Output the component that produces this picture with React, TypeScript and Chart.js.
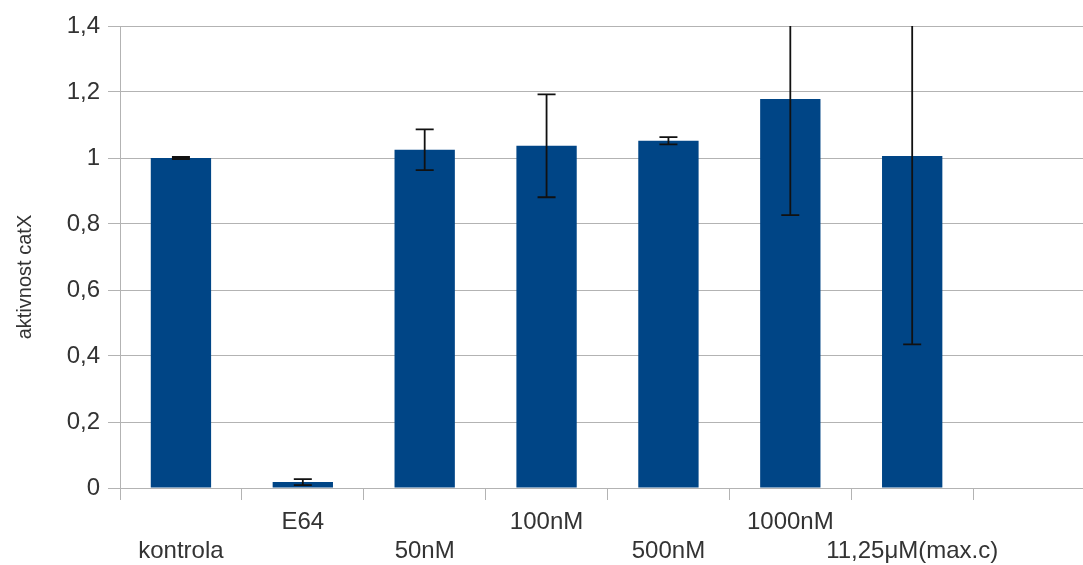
import React, { useEffect, useRef } from "react";
import { Chart, registerables } from "chart.js";

Chart.register(...registerables);

const categories = ["kontrola", "E64", "50nM", "100nM", "500nM", "1000nM", "11,25μM(max.c)", ""];
const values = [1.0, 0.018, 1.025, 1.037, 1.052, 1.179, 1.006, null];
const errors = [0.003, 0.009, 0.062, 0.156, 0.011, 0.352, 0.571, null];
const yTicks = [0, 0.2, 0.4, 0.6, 0.8, 1, 1.2, 1.4];
const yTitle = "aktivnost catX";

const FONT = "'Liberation Sans', Arial, sans-serif";
const TEXT = "#333333";
const GRID = "#b3b3b3";

const errorBarPlugin = {
  id: "errorBars",
  afterDatasetsDraw(chart: any) {
    const meta = chart.getDatasetMeta(0);
    const y = chart.scales.y;
    const area = chart.chartArea;
    const ctx = chart.ctx;
    ctx.save();
    ctx.strokeStyle = "#111111";
    ctx.lineWidth = 1.8;
    meta.data.forEach((bar: any, i: number) => {
      const v = values[i];
      const e = errors[i];
      if (v == null || e == null) return;
      const x = bar.x;
      const pTop = y.getPixelForValue(v + e);
      const pBot = y.getPixelForValue(v - e);
      const t = Math.max(pTop, area.top);
      const b = Math.min(pBot, area.bottom);
      ctx.beginPath();
      ctx.moveTo(x, t);
      ctx.lineTo(x, b);
      if (pTop >= area.top) {
        ctx.moveTo(x - 9, pTop);
        ctx.lineTo(x + 9, pTop);
      }
      if (pBot <= area.bottom) {
        ctx.moveTo(x - 9, pBot);
        ctx.lineTo(x + 9, pBot);
      }
      ctx.stroke();
    });
    ctx.restore();
  },
};

const yTitlePlugin = {
  id: "yTitle",
  afterDraw(chart: any) {
    const ctx = chart.ctx;
    ctx.save();
    ctx.translate(25, 277);
    ctx.rotate(-Math.PI / 2);
    ctx.font = `20px ${FONT}`;
    ctx.fillStyle = TEXT;
    ctx.textAlign = "center";
    ctx.textBaseline = "middle";
    ctx.fillText(yTitle, 0, 0);
    ctx.restore();
  },
};

export default function App() {
  const ref = useRef<HTMLCanvasElement>(null);

  useEffect(() => {
    if (!ref.current) return;
    const chart = new Chart(ref.current, {
      type: "bar",
      data: {
        labels: categories,
        datasets: [
          {
            data: values as any,
            backgroundColor: "#004586",
            borderWidth: 0,
            categoryPercentage: 1,
            barPercentage: 0.495,
          },
        ],
      },
      options: {
        responsive: false,
        animation: false,
        devicePixelRatio: 1,
        layout: { padding: { top: 26, right: 5, left: 0, bottom: 0 } },
        plugins: {
          legend: { display: false },
          tooltip: { enabled: false },
        },
        scales: {
          x: {
            afterFit(scale: any) {
              scale.height = 77;
            },
            grid: {
              drawOnChartArea: false,
              drawTicks: true,
              tickLength: 12,
              color: GRID,
              offset: true,
            },
            border: { color: GRID, width: 1 },
            ticks: {
              autoSkip: false,
              maxRotation: 0,
              minRotation: 0,
              padding: 8,
              color: TEXT,
              font: { family: FONT, size: 24 },
              callback: (_v: any, i: number) =>
                i % 2 === 0 ? ["", categories[i]] : categories[i],
            },
          },
          y: {
            min: 0,
            max: 1.4,
            afterFit(scale: any) {
              scale.width = 120;
            },
            afterBuildTicks(scale: any) {
              scale.ticks = yTicks.map((v) => ({ value: v }));
            },
            grid: {
              color: GRID,
              tickLength: 12,
              lineWidth: 1,
            },
            border: { color: GRID, width: 1 },
            ticks: {
              padding: 8,
              color: TEXT,
              font: { family: FONT, size: 24 },
              callback: (v: any) => String(Number(Number(v).toFixed(1))).replace(".", ","),
            },
          },
        },
      },
      plugins: [errorBarPlugin, yTitlePlugin],
    });
    return () => chart.destroy();
  }, []);

  return (
    <div
      style={{
        position: "fixed",
        left: 0,
        top: 0,
        width: 1083,
        height: 565,
        overflow: "hidden",
        background: "#ffffff",
      }}
    >
      <canvas ref={ref} width={1100} height={565} style={{ display: "block", width: 1100, height: 565 }} />
    </div>
  );
}
